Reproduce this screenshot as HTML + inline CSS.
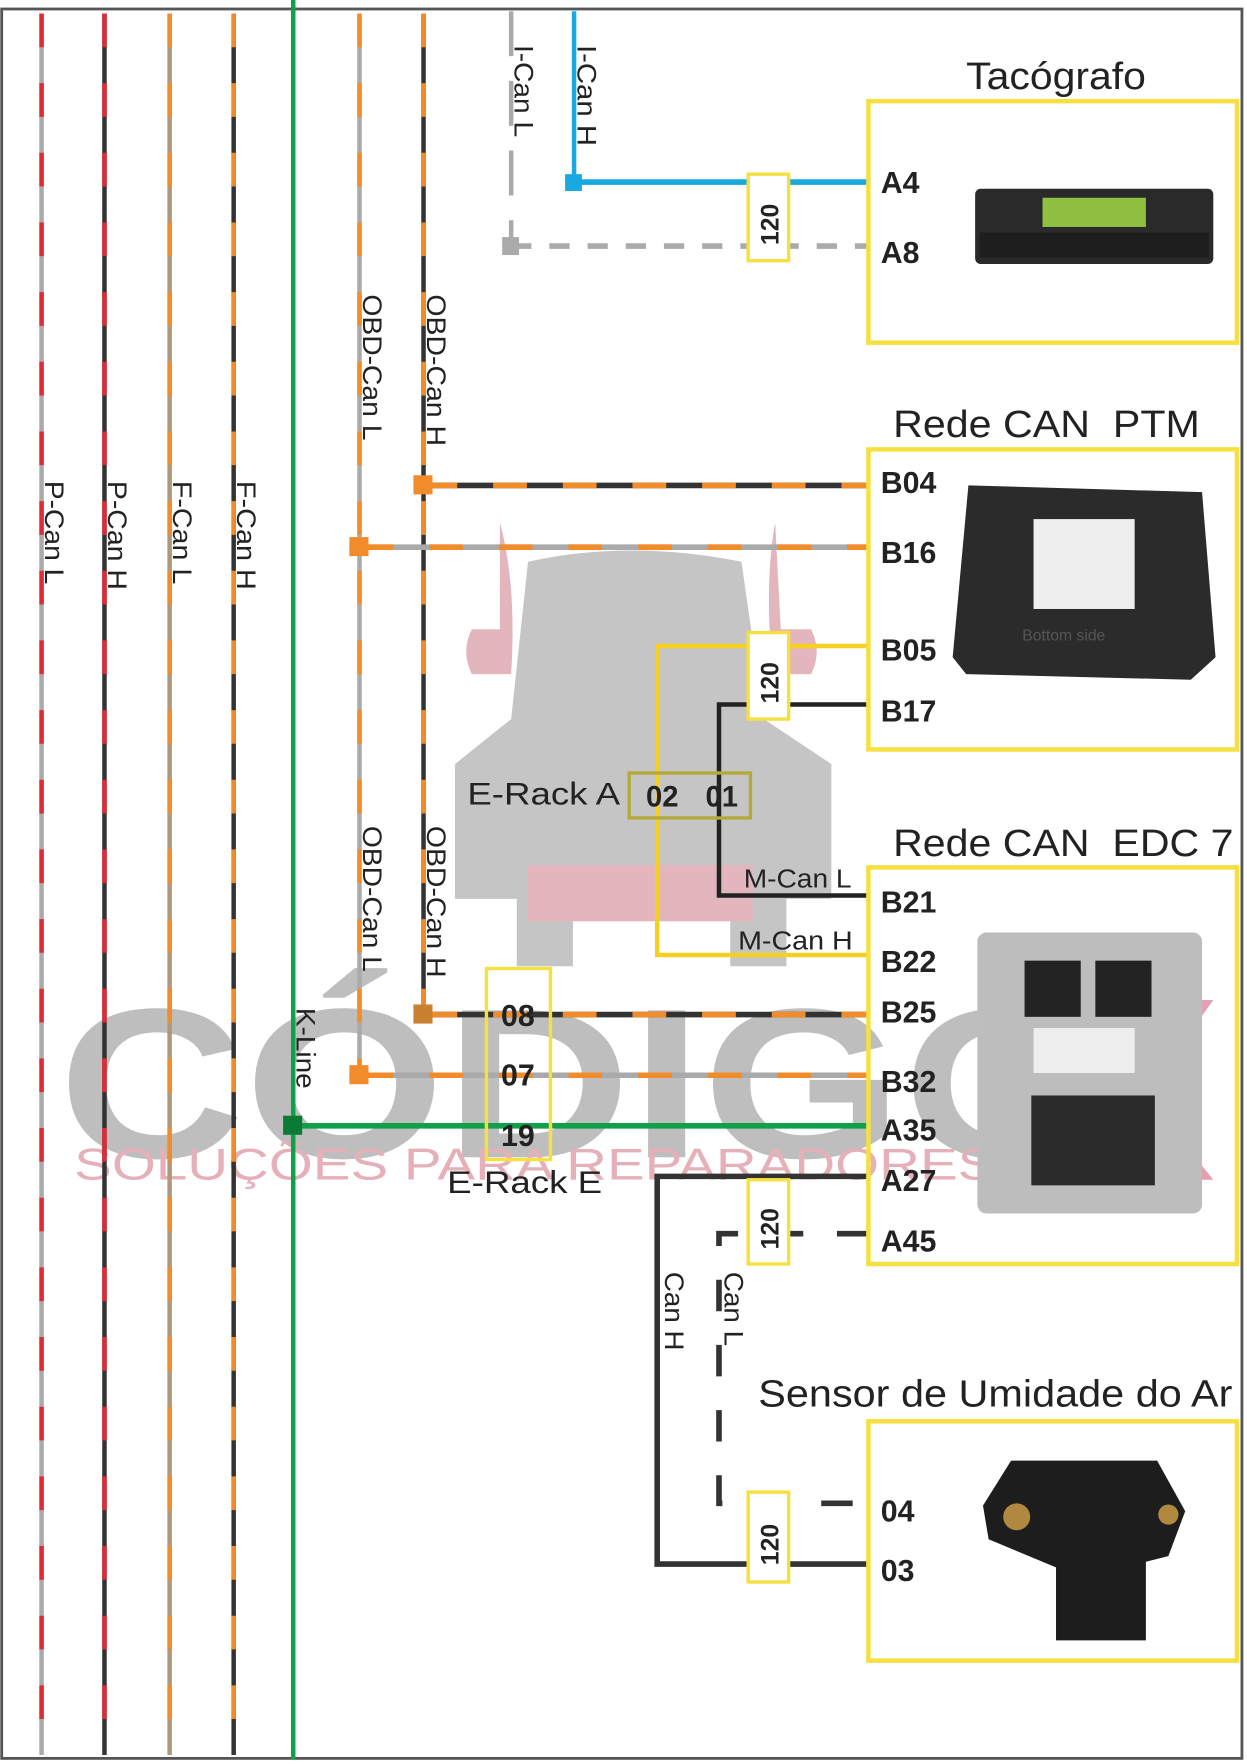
<!DOCTYPE html>
<html><head><meta charset="utf-8"><style>
html,body{margin:0;padding:0;background:#fff;}
svg{display:block;}
text{font-family:"Liberation Sans",sans-serif;}
</style></head><body>
<svg width="1247" height="1764" viewBox="0 0 1110 1570" preserveAspectRatio="none" xmlns="http://www.w3.org/2000/svg">
<rect x="0" y="0" width="1110" height="1570" fill="#fff"/>
<rect x="1.5" y="8" width="1104" height="1557" fill="none" stroke="#555" stroke-width="2.5"/>

<!-- watermark truck -->
<g opacity="0.5">
<path d="M445 465 Q460 520 455 600 L420 600 Q410 580 420 560 L445 560 Z" fill="#c9707e"/>
<path d="M690 465 Q680 520 688 600 L722 600 Q732 580 722 560 L695 560 Z" fill="#c9707e"/>
<path d="M470 500 Q560 480 660 500 L680 640 L740 680 L740 800 L700 800 L700 860 L650 860 L650 800 L510 800 L510 860 L460 860 L460 800 L405 800 L405 680 L455 640 Z" fill="#8c8c8c"/>
<rect x="470" y="770" width="200" height="50" fill="#c9707e"/>
</g>
<g opacity="0.55">
<text x="52" y="1030" font-size="190" font-weight="bold" fill="#8a8a8a" textLength="930" lengthAdjust="spacingAndGlyphs">CÓDIGO</text>
<text x="66" y="1050" font-size="40" fill="#d07080" textLength="820" lengthAdjust="spacingAndGlyphs">SOLUÇÕES PARA REPARADORES</text>
<path d="M900 890 L960 890 L990 950 L1020 890 L1080 890 L1020 975 L1080 1050 L1020 1050 L990 1000 L960 1050 L900 1050 L960 975 Z" fill="#d05070"/>
</g>

<!-- verticals -->
<g stroke-width="4">
<line x1="37" y1="12" x2="37" y2="1562" stroke="#aaa"/>
<line x1="37" y1="12" x2="37" y2="1562" stroke="#e02a35" stroke-dasharray="30 32"/>
<line x1="93" y1="12" x2="93" y2="1562" stroke="#333"/>
<line x1="93" y1="12" x2="93" y2="1562" stroke="#e02a35" stroke-dasharray="30 32"/>
<line x1="151" y1="12" x2="151" y2="1562" stroke="#b0987a"/>
<line x1="151" y1="12" x2="151" y2="1562" stroke="#f28c2a" stroke-dasharray="30 32"/>
<line x1="208" y1="12" x2="208" y2="1562" stroke="#333"/>
<line x1="208" y1="12" x2="208" y2="1562" stroke="#f28c2a" stroke-dasharray="30 32"/>
<line x1="261" y1="0" x2="261" y2="1566" stroke="#0fa04a"/>
<line x1="320" y1="12" x2="320" y2="960" stroke="#aaa"/>
<line x1="320" y1="12" x2="320" y2="960" stroke="#f28c2a" stroke-dasharray="30 32"/>
<line x1="377" y1="12" x2="377" y2="905" stroke="#333"/>
<line x1="377" y1="12" x2="377" y2="905" stroke="#f28c2a" stroke-dasharray="30 32"/>
<line x1="455" y1="10" x2="455" y2="220" stroke="#aaa" stroke-dasharray="40 22"/>
<line x1="511" y1="10" x2="511" y2="162" stroke="#1aa8e0"/>
</g>

<!-- vertical labels -->
<g font-size="24" fill="#222">
<text transform="translate(40,428) rotate(90)" textLength="92" lengthAdjust="spacingAndGlyphs">P-Can L</text>
<text transform="translate(96,428) rotate(90)" textLength="97" lengthAdjust="spacingAndGlyphs">P-Can H</text>
<text transform="translate(154,428) rotate(90)" textLength="92" lengthAdjust="spacingAndGlyphs">F-Can L</text>
<text transform="translate(211,428) rotate(90)" textLength="97" lengthAdjust="spacingAndGlyphs">F-Can H</text>
<text transform="translate(323,262) rotate(90)" textLength="130" lengthAdjust="spacingAndGlyphs">OBD-Can L</text>
<text transform="translate(380,262) rotate(90)" textLength="135" lengthAdjust="spacingAndGlyphs">OBD-Can H</text>
<text transform="translate(323,735) rotate(90)" textLength="130" lengthAdjust="spacingAndGlyphs">OBD-Can L</text>
<text transform="translate(380,735) rotate(90)" textLength="135" lengthAdjust="spacingAndGlyphs">OBD-Can H</text>
<text transform="translate(458,40) rotate(90)" textLength="82" lengthAdjust="spacingAndGlyphs">I-Can L</text>
<text transform="translate(514,40) rotate(90)" textLength="90" lengthAdjust="spacingAndGlyphs">I-Can H</text>
<text transform="translate(264,897) rotate(90)" textLength="72" lengthAdjust="spacingAndGlyphs">K-Line</text>
<text transform="translate(592,1132) rotate(90)" textLength="70" lengthAdjust="spacingAndGlyphs">Can H</text>
<text transform="translate(645,1132) rotate(90)" textLength="66" lengthAdjust="spacingAndGlyphs">Can L</text>
</g>

<!-- Tacografo -->
<line x1="511" y1="162" x2="773" y2="162" stroke="#1aa8e0" stroke-width="5"/>
<rect x="503" y="155" width="15" height="15" fill="#1aa8e0"/>
<line x1="455" y1="219" x2="773" y2="219" stroke="#aaa" stroke-width="5" stroke-dasharray="18 16"/>
<rect x="447" y="211" width="15" height="16" fill="#aaa"/>

<!-- PTM lines -->
<line x1="377" y1="432" x2="773" y2="432" stroke="#333" stroke-width="5"/>
<line x1="377" y1="432" x2="773" y2="432" stroke="#f28c2a" stroke-width="5" stroke-dasharray="30 32"/>
<rect x="368" y="423" width="17" height="17" fill="#f28c2a"/>
<line x1="320" y1="487" x2="773" y2="487" stroke="#aaa" stroke-width="5"/>
<line x1="320" y1="487" x2="773" y2="487" stroke="#f28c2a" stroke-width="5" stroke-dasharray="30 32"/>
<rect x="311" y="478" width="17" height="17" fill="#f28c2a"/>

<!-- M-Can -->
<polyline points="773,575 585,575 585,850 773,850" fill="none" stroke="#f5d020" stroke-width="4"/>
<polyline points="773,627 640,627 640,797 773,797" fill="none" stroke="#222" stroke-width="4"/>
<rect x="560" y="688" width="108" height="40" fill="none" stroke="#b5a93a" stroke-width="3"/>
<text x="575" y="718" font-size="26" font-weight="bold" fill="#222">02</text>
<text x="628" y="718" font-size="26" font-weight="bold" fill="#222">01</text>
<text x="416" y="716" font-size="28" fill="#222" textLength="136" lengthAdjust="spacingAndGlyphs">E-Rack A</text>
<text x="662" y="790" font-size="23" fill="#222" textLength="96" lengthAdjust="spacingAndGlyphs">M-Can L</text>
<text x="657" y="845" font-size="23" fill="#222" textLength="102" lengthAdjust="spacingAndGlyphs">M-Can H</text>

<!-- EDC lines -->
<line x1="377" y1="903" x2="773" y2="903" stroke="#333" stroke-width="5"/>
<line x1="377" y1="903" x2="773" y2="903" stroke="#f28c2a" stroke-width="5" stroke-dasharray="30 32"/>
<rect x="368" y="894" width="17" height="17" fill="#c98030"/>
<line x1="320" y1="957" x2="773" y2="957" stroke="#aaa" stroke-width="5"/>
<line x1="320" y1="957" x2="773" y2="957" stroke="#f28c2a" stroke-width="5" stroke-dasharray="30 32"/>
<rect x="311" y="948" width="17" height="17" fill="#f28c2a"/>
<line x1="261" y1="1002" x2="773" y2="1002" stroke="#0fa04a" stroke-width="5"/>
<rect x="252" y="993" width="17" height="17" fill="#0a7a35"/>
<rect x="433" y="862" width="57" height="170" fill="none" stroke="#f5e040" stroke-width="3"/>
<text x="446" y="913" font-size="27" font-weight="bold" fill="#222">08</text>
<text x="446" y="966" font-size="27" font-weight="bold" fill="#222">07</text>
<text x="446" y="1020" font-size="27" font-weight="bold" fill="#222">19</text>
<text x="398" y="1062" font-size="28" fill="#222" textLength="138" lengthAdjust="spacingAndGlyphs">E-Rack E</text>

<polyline points="773,1047 585,1047 585,1392 773,1392" fill="none" stroke="#333" stroke-width="5"/>
<polyline points="773,1098 640,1098 640,1338 773,1338" fill="none" stroke="#333" stroke-width="5" stroke-dasharray="28 30"/>

<!-- resistors -->
<g fill="#fff" stroke="#f5e040" stroke-width="3">
<rect x="666" y="155" width="36" height="77"/>
<rect x="666" y="563" width="36" height="77"/>
<rect x="666" y="1050" width="36" height="75"/>
<rect x="666" y="1328" width="36" height="80"/>
</g>
<g font-size="22" font-weight="bold" fill="#222">
<text transform="translate(693,218) rotate(-90)">120</text>
<text transform="translate(693,626) rotate(-90)">120</text>
<text transform="translate(693,1112) rotate(-90)">120</text>
<text transform="translate(693,1393) rotate(-90)">120</text>
</g>

<!-- boxes -->
<g fill="none" stroke="#f5e040" stroke-width="4">
<rect x="773" y="90" width="328" height="215"/>
<rect x="773" y="400" width="328" height="267"/>
<rect x="773" y="772" width="328" height="353"/>
<rect x="773" y="1265" width="328" height="213"/>
</g>
<g font-size="34" fill="#222">
<text x="860" y="79" textLength="160" lengthAdjust="spacingAndGlyphs">Tacógrafo</text>
<text x="795" y="389" textLength="273" lengthAdjust="spacingAndGlyphs">Rede CAN&#160; PTM</text>
<text x="795" y="762" textLength="303" lengthAdjust="spacingAndGlyphs">Rede CAN&#160; EDC 7</text>
<text x="675" y="1252" textLength="422" lengthAdjust="spacingAndGlyphs">Sensor de Umidade do Ar</text>
</g>
<g font-size="27" font-weight="bold" fill="#222">
<text x="784" y="172">A4</text>
<text x="784" y="234">A8</text>
<text x="784" y="439">B04</text>
<text x="784" y="501">B16</text>
<text x="784" y="588">B05</text>
<text x="784" y="642">B17</text>
<text x="784" y="812">B21</text>
<text x="784" y="865">B22</text>
<text x="784" y="910">B25</text>
<text x="784" y="972">B32</text>
<text x="784" y="1015">A35</text>
<text x="784" y="1060">A27</text>
<text x="784" y="1114">A45</text>
<text x="784" y="1354">04</text>
<text x="784" y="1407">03</text>
</g>

<!-- device images approximations -->
<rect x="868" y="168" width="212" height="67" rx="5" fill="#2a2a2a"/>
<rect x="928" y="176" width="92" height="26" fill="#8fc040"/>
<rect x="872" y="207" width="204" height="22" fill="#1e1e1e"/>

<path d="M862 432 L1070 438 L1082 585 L1060 605 L860 600 L848 585 Z" fill="#2b2b2b"/>
<rect x="920" y="462" width="90" height="80" fill="#eee"/>
<text x="910" y="570" font-size="14" fill="#555">Bottom side</text>

<rect x="870" y="830" width="200" height="250" rx="8" fill="#bdbdbd"/>
<rect x="912" y="855" width="50" height="50" fill="#222"/>
<rect x="975" y="855" width="50" height="50" fill="#222"/>
<rect x="920" y="915" width="90" height="40" fill="#eee"/>
<rect x="918" y="975" width="110" height="80" fill="#2a2a2a"/>

<path d="M900 1300 L1030 1300 L1055 1345 L1040 1385 L1020 1390 L1020 1460 L940 1460 L940 1395 L880 1370 L875 1340 Z" fill="#1d1d1d"/>
<circle cx="905" cy="1350" r="12" fill="#b08840"/>
<circle cx="1040" cy="1348" r="9" fill="#b08840"/>
</svg>
</body></html>
